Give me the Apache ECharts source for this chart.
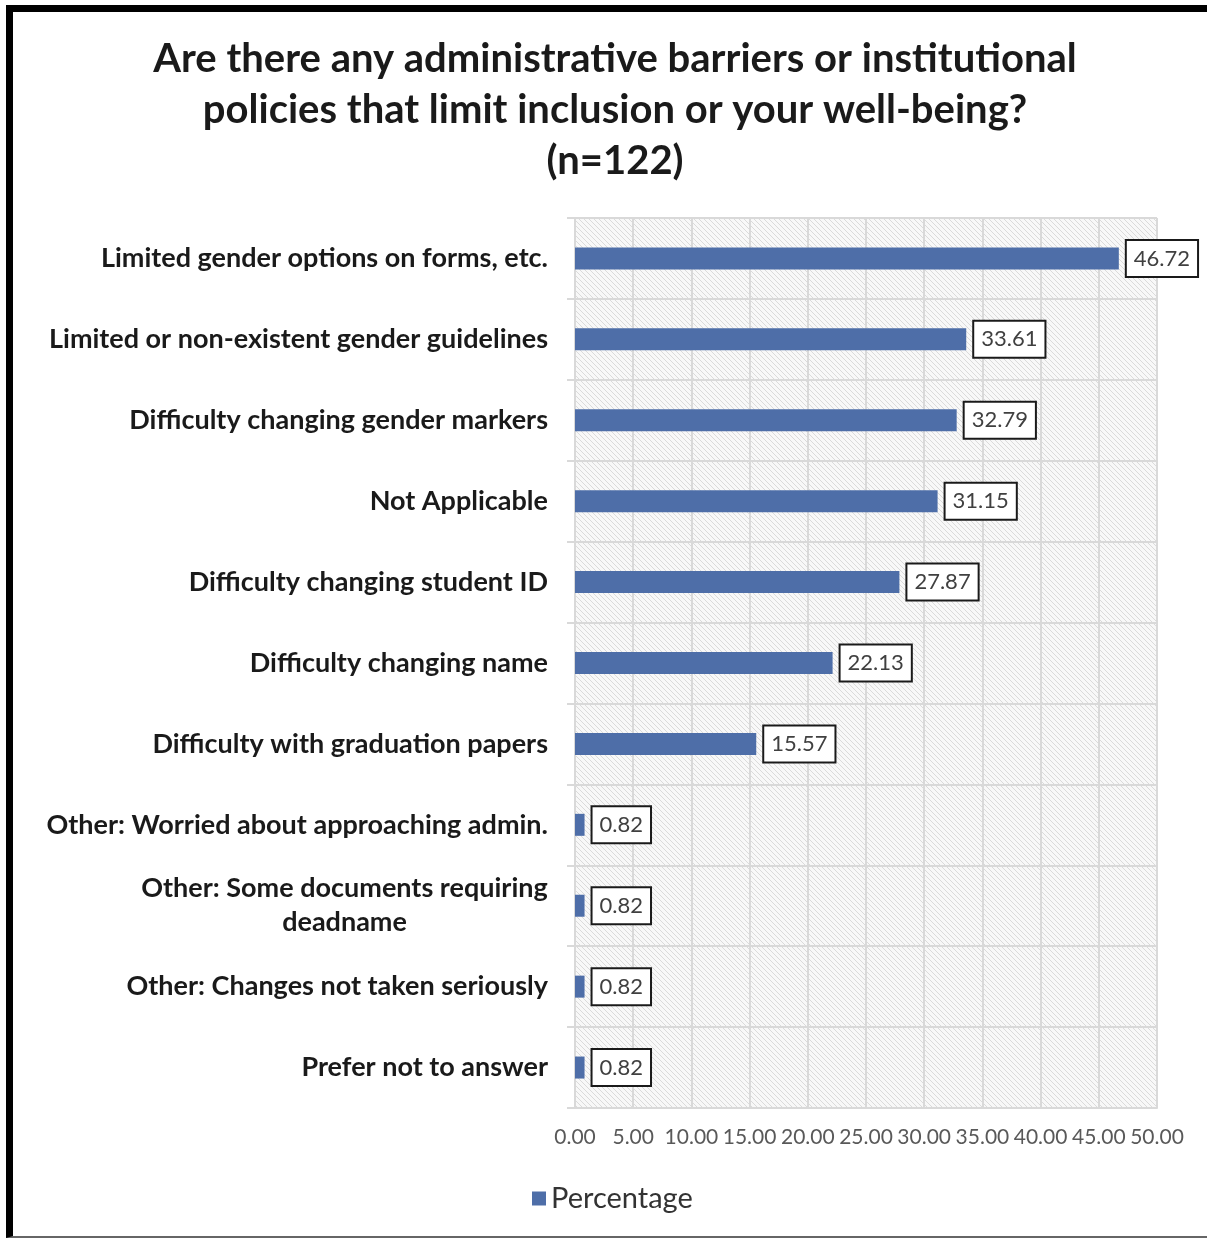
<!DOCTYPE html>
<html>
<head>
<meta charset="utf-8">
<script src="https://cdn.jsdelivr.net/npm/echarts@6/dist/echarts.min.js"></script>
<style>
  html, body { margin: 0; padding: 0; background: #fff; }
  #wrap { position: relative; width: 1207px; height: 1238px; overflow: hidden; }
  #chart { position: absolute; left: 0; top: 0; width: 1207px; height: 1238px; }
  #frame { position: absolute; left: 6px; top: 5px; width: 1220px; height: 1224px;
           border-left: 7px solid #000; border-top: 7px solid #000; border-bottom: 2px solid #666;
           pointer-events: none; }
</style>
</head>
<body>
<div id="wrap">
  <div id="chart"></div>
  <div id="frame"></div>
</div>
<script>
const titleText = 'Are there any administrative barriers or institutional\npolicies that limit inclusion or your well-being?\n(n=122)';
const categories = [
  'Limited gender options on forms, etc.',
  'Limited or non-existent gender guidelines',
  'Difficulty changing gender markers',
  'Not Applicable',
  'Difficulty changing student ID',
  'Difficulty changing name',
  'Difficulty with graduation papers',
  'Other: Worried about approaching admin.',
  'Other: Some documents requiring\ndeadname',
  'Other: Changes not taken seriously',
  'Prefer not to answer'
];
const percentages = [46.72, 33.61, 32.79, 31.15, 27.87, 22.13, 15.57, 0.82, 0.82, 0.82, 0.82];
const seriesName = 'Percentage';
const xTicks = { min: 0, max: 50, interval: 5 };

const labelFont = 'Lato, "Open Sans", sans-serif';
const catFontSize = 27;

function makeHatch() {
  const n = 5;
  const c = document.createElement('canvas');
  c.width = n; c.height = n;
  const ctx = c.getContext('2d');
  ctx.fillStyle = '#f8f8f8';
  ctx.fillRect(0, 0, n, n);
  ctx.strokeStyle = '#dadada';
  ctx.lineWidth = 1;
  for (let off = -n; off <= n; off += n) {
    ctx.beginPath();
    ctx.moveTo(off, 0);
    ctx.lineTo(off + n, n);
    ctx.stroke();
  }
  return c;
}

function measureWidest(text) {
  const c = document.createElement('canvas');
  const ctx = c.getContext('2d');
  ctx.font = 'bold ' + catFontSize + 'px ' + labelFont;
  return Math.max.apply(null, text.split('\n').map(s => ctx.measureText(s).width));
}
const multiLineWidth = Math.ceil(Math.max.apply(null,
  categories.filter(s => s.indexOf('\n') >= 0).map(measureWidest).concat([0])));

const chart = echarts.init(document.getElementById('chart'));
chart.setOption({
  animation: false,
  backgroundColor: '#fff',
  title: {
    text: titleText,
    left: 610,
    textAlign: 'center',
    top: 29,
    textStyle: { fontFamily: labelFont, fontSize: 40, fontWeight: 'bold', color: '#1a1a1a', lineHeight: 51 }
  },
  legend: {
    data: [seriesName],
    left: 527,
    top: 1179,
    icon: 'rect',
    itemWidth: 14,
    itemHeight: 14,
    itemGap: 10,
    textStyle: { fontFamily: labelFont, fontSize: 29, color: '#333' }
  },
  grid: {
    left: 575, right: 50, top: 218, bottom: 130,
    show: true,
    backgroundColor: { image: makeHatch(), repeat: 'repeat' },
    borderWidth: 0
  },
  xAxis: {
    type: 'value',
    min: xTicks.min, max: xTicks.max, interval: xTicks.interval,
    axisLine: { show: true, lineStyle: { color: '#d9d9d9', width: 2 } },
    axisTick: { show: false },
    splitLine: { show: true, lineStyle: { color: '#d9d9d9', width: 2 } },
    axisLabel: {
      margin: 19,
      color: '#595959',
      fontFamily: labelFont,
      fontSize: 21,
      formatter: v => v.toFixed(2)
    }
  },
  yAxis: {
    type: 'category',
    inverse: true,
    data: categories,
    axisLine: { show: true, lineStyle: { color: '#d9d9d9', width: 2 } },
    axisTick: { show: true, length: 8, lineStyle: { color: '#d9d9d9', width: 2 } },
    splitLine: { show: true, lineStyle: { color: '#d9d9d9', width: 2 } },
    axisLabel: {
      margin: 27,
      color: '#1a1a1a',
      fontFamily: labelFont,
      fontSize: catFontSize,
      fontWeight: 'bold',
      lineHeight: 34,
      formatter: v => v.indexOf('\n') >= 0 ? v.split('\n').map(s => '{c|' + s + '}').join('\n') : v,
      rich: {
        c: { width: multiLineWidth, align: 'center', fontFamily: labelFont, fontSize: catFontSize, fontWeight: 'bold', color: '#1a1a1a', lineHeight: 34 }
      }
    }
  },
  series: [{
    name: seriesName,
    type: 'bar',
    data: percentages,
    barWidth: 22,
    itemStyle: { color: '#4e6ea8' },
    label: {
      show: true,
      position: 'right',
      distance: 8,
      formatter: p => p.value.toFixed(2),
      fontFamily: labelFont,
      fontSize: 22,
      color: '#404040',
      backgroundColor: '#fff',
      borderColor: '#1a1a1a',
      borderWidth: 2,
      padding: [7, 7, 6, 7]
    }
  }]
});
</script>
</body>
</html>
